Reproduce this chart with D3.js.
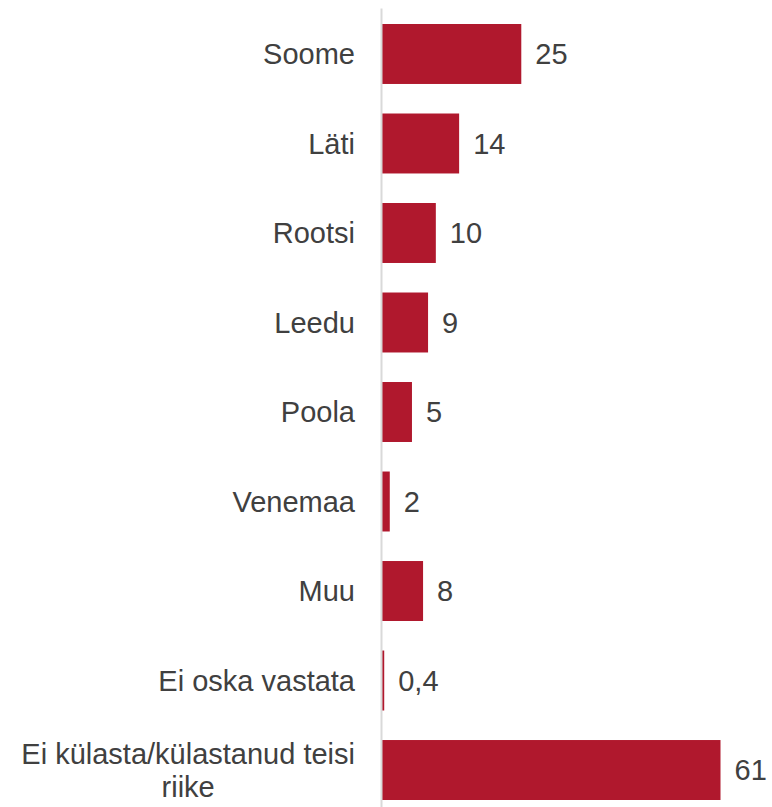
<!DOCTYPE html>
<html>
<head>
<meta charset="utf-8">
<script src="https://cdn.jsdelivr.net/npm/d3@7"></script>
<style>
  html, body { margin: 0; padding: 0; background: #ffffff; }
  svg { display: block; }
</style>
</head>
<body>
<script>
const categories = ["Soome", "Läti", "Rootsi", "Leedu", "Poola", "Venemaa", "Muu", "Ei oska vastata", "Ei külasta/külastanud teisi riike"];
const values = [25.1, 13.9, 9.7, 8.3, 5.4, 1.4, 7.4, 0.4, 61];
const valueLabels = ["25", "14", "10", "9", "5", "2", "8", "0,4", "61"];

const W = 772, H = 807;
const barColor = "#B0182D";
const textColor = "#404040";
const fontSize = 29;

const svg = d3.select("body").append("svg").attr("width", W).attr("height", H);

const x = d3.scaleLinear().domain([0, 61]).range([382, 720.5]);
const y = d3.scaleBand().domain(categories).range([24, 800]).paddingInner(0.33).paddingOuter(0);

const data = categories.map((c, i) => ({ c, v: values[i], lab: valueLabels[i] }));

// bars
svg.append("g").selectAll("rect").data(data).enter().append("rect")
  .attr("x", x(0))
  .attr("y", d => y(d.c))
  .attr("width", d => x(d.v) - x(0))
  .attr("height", y.bandwidth())
  .attr("fill", barColor);

// axis line
const axis = svg.append("g").attr("transform", `translate(${x(0) - 1},0)`)
  .call(d3.axisLeft(d3.scaleLinear().range([8, H])).ticks(0).tickSize(0));
axis.selectAll("text").remove();
axis.select(".domain").attr("stroke", "#d9d9d9").attr("stroke-width", 2);

// value labels
svg.append("g").selectAll("text").data(data).enter().append("text")
  .attr("x", d => x(d.v) + 14)
  .attr("y", d => y(d.c) + y.bandwidth() / 2)
  .attr("dy", "0.36em")
  .attr("font-family", "Arial, 'Liberation Sans', sans-serif")
  .attr("font-size", fontSize)
  .attr("fill", textColor)
  .text(d => d.lab);

// category labels (wrap long one)
const labelRight = 355;
const lineH = 33;
const g = svg.append("g");
data.forEach(d => {
  const cy = y(d.c) + y.bandwidth() / 2;
  let lines = [d.c];
  if (d.c.startsWith("Ei külasta")) lines = ["Ei külasta/külastanud teisi", "riike"];
  const t = g.append("text")
    .attr("font-family", "Arial, 'Liberation Sans', sans-serif")
    .attr("font-size", fontSize)
    .attr("fill", textColor);
  if (lines.length === 1) {
    t.attr("x", labelRight).attr("y", cy).attr("dy", "0.36em").attr("text-anchor", "end").text(lines[0]);
  } else {
    const spans = lines.map((l, i) => t.append("tspan").text(l));
    let maxW = 0;
    spans.forEach(s => { maxW = Math.max(maxW, s.node().getComputedTextLength()); });
    const cx = labelRight - maxW / 2;
    const y0 = cy - (lines.length - 1) * lineH / 2;
    spans.forEach((s, i) => s.attr("x", cx).attr("y", y0 + i * lineH).attr("dy", "0.36em").attr("text-anchor", "middle"));
  }
});
</script>
</body>
</html>
